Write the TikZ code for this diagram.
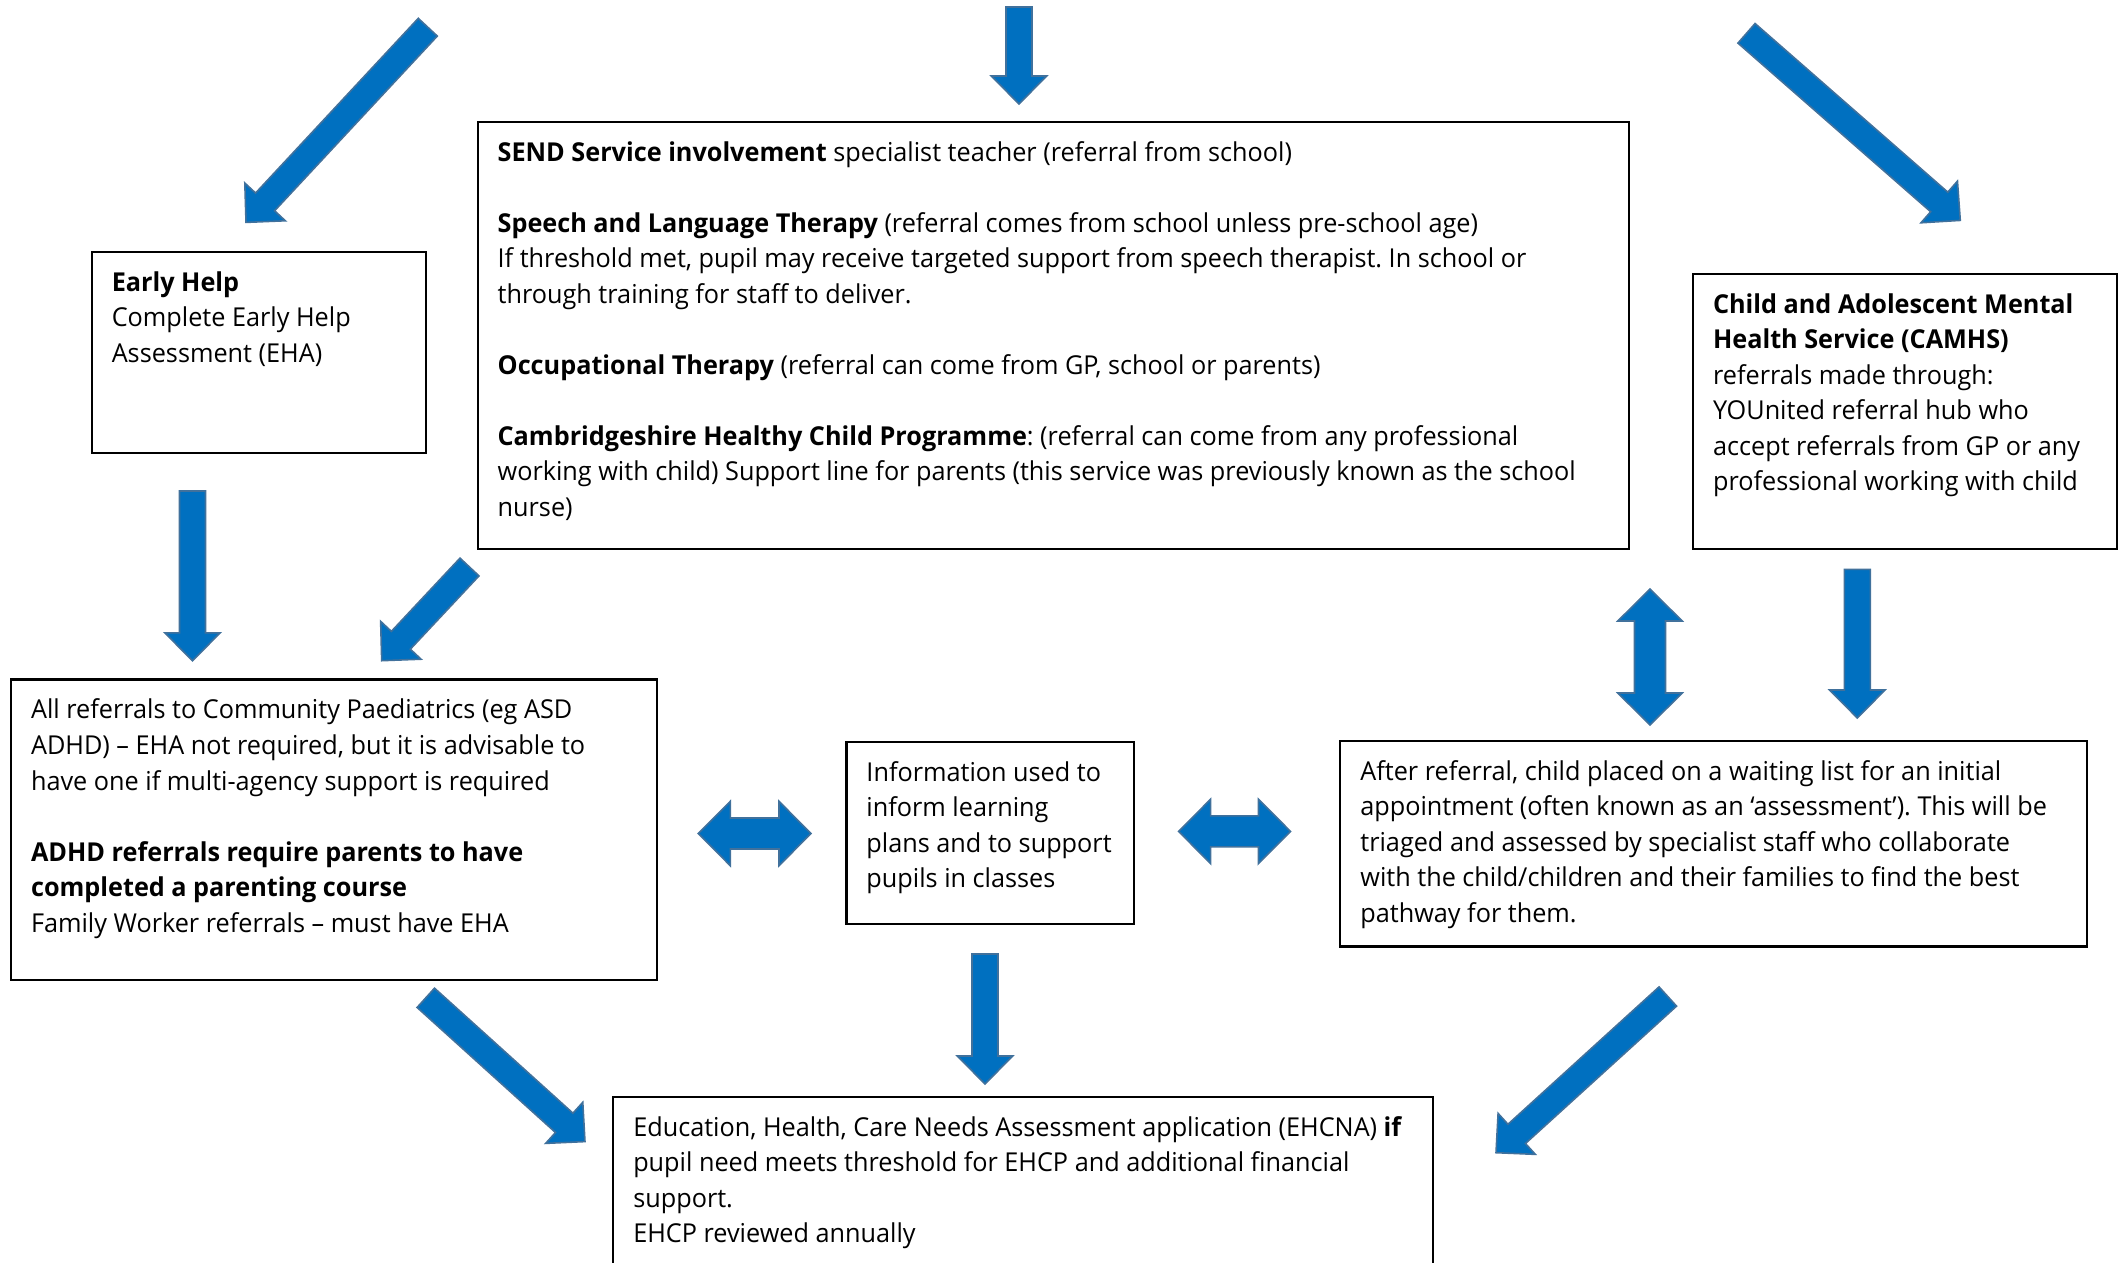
\documentclass[tikz,border=0pt]{standalone}
\usepackage{fontspec}
\setmainfont{Open Sans}[FakeStretch=0.97]
\usepackage{xcolor}
\usetikzlibrary{calc,positioning}

\definecolor{arrowblue}{HTML}{0070C0}
\definecolor{arrowedge}{HTML}{41719C}

% block arrow from #1 (tail) to #2 (tip)
\newcommand\fatarrow[2]{%
  \coordinate (fa-b) at ($(#2)!0.28cm!(#1)$);
  \draw[arrowshape] ($(#1)!0.13cm!90:(#2)$) -- ($(fa-b)!0.13cm!90:(#2)$)
    -- ($(fa-b)!0.277cm!90:(#2)$) -- (#2) -- ($(fa-b)!0.277cm!-90:(#2)$)
    -- ($(fa-b)!0.13cm!-90:(#2)$) -- ($(#1)!0.13cm!-90:(#2)$) -- cycle;}
% block arrow with a head at both ends
\newcommand\dblarrow[2]{%
  \coordinate (da-a) at ($(#1)!0.32cm!(#2)$);
  \coordinate (da-b) at ($(#2)!0.32cm!(#1)$);
  \draw[arrowshape] (#1) -- ($(da-a)!0.322cm!90:(#2)$) -- ($(da-a)!0.155cm!90:(#2)$)
    -- ($(da-b)!0.155cm!-90:(#1)$) -- ($(da-b)!0.322cm!-90:(#1)$) -- (#2)
    -- ($(da-b)!0.322cm!90:(#1)$) -- ($(da-b)!0.155cm!90:(#1)$)
    -- ($(da-a)!0.155cm!-90:(#2)$) -- ($(da-a)!0.322cm!-90:(#2)$) -- cycle;}
% text block of fixed size, lines set by hand
\newcommand\boxtext[3]{\makebox[#1][l]{\parbox[t][#2][t]{\dimexpr#1+1cm\relax}{%
  \raggedright\frenchspacing\strut #3}}}

\begin{document}
\begin{tikzpicture}[x=0.01cm,y=-0.01cm,
  box/.style={draw,line width=0.6pt,anchor=north west,inner xsep=0.2cm,
    inner ysep=0.1465cm,font=\fontsize{7.4}{10.1}\selectfont},
  arrowshape/.style={fill=arrowblue,draw=arrowedge,line width=0.45pt}]
  \useasboundingbox (0,0) rectangle (2123,1263);
  \clip (0,0) rectangle (2123,1263);

  % boxes
  \node[box] (eh) at (90.7,250.5) {\boxtext{2.943cm}{1.722cm}{%
    \textbf{Early Help}\\
    Complete Early Help\\
    Assessment (EHA)}};
  \node[box] (send) at (476.6,120.5) {\boxtext{11.109cm}{3.982cm}{%
    \textbf{SEND Service involvement} specialist teacher (referral from school)\\[\baselineskip]
    \textbf{Speech and Language Therapy} (referral comes from school unless pre-school age)\\
    If threshold met, pupil may receive targeted support from speech therapist. In school or\\
    through training for staff to deliver.\\[\baselineskip]
    \textbf{Occupational Therapy} (referral can come from GP, school or parents)\\[\baselineskip]
    \textbf{Cambridgeshire Healthy Child Programme}: (referral can come from any professional\\
    working with child) Support line for parents (this service was previously known as the school\\
    nurse)}};
  \node[box] (camhs) at (1692,272.6) {\boxtext{3.84cm}{2.461cm}{%
    \textbf{Child and Adolescent Mental}\\
    \textbf{Health Service (CAMHS)}\\
    referrals made through:\\
    YOUnited referral hub who\\
    accept referrals from GP or any\\
    professional working with child}};
  \node[box] (paed) at (10,678.4) {\boxtext{6.056cm}{2.715cm}{%
    All referrals to Community Paediatrics (eg ASD\\
    ADHD) – EHA not required, but it is advisable to\\
    have one if multi-agency support is required\\[\baselineskip]
    \textbf{ADHD referrals require parents to have}\\
    \textbf{completed a parenting course}\\
    Family Worker referrals – must have EHA}};
  \node[box] (info) at (845.4,740.8) {\boxtext{2.471cm}{1.528cm}{%
    Information used to\\
    inform learning\\
    plans and to support\\
    pupils in classes}};
  \node[box] (wait) at (1339.3,739.6) {\boxtext{7.065cm}{1.764cm}{%
    After referral, child placed on a waiting list for an initial\\
    appointment (often known as an ‘assessment’). This will be\\
    triaged and assessed by specialist staff who collaborate\\
    with the child/children and their families to find the best\\
    pathway for them.}};
  \node[box] (ehcna) at (612.2,1095.5) {\boxtext{7.793cm}{1.752cm}{%
    Education, Health, Care Needs Assessment application (EHCNA) \textbf{if}\\
    pupil need meets threshold for EHCP and additional financial\\
    support.\\
    EHCP reviewed annually}};

  % arrow ends
  \coordinate (eh-from) at (427.8,27.2);    \coordinate (eh-to) at (246,222.4);
  \coordinate (send-from) at (1019,7);      \coordinate (send-to) at (1019,104);
  \coordinate (camhs-from) at (1746.5,33.3); \coordinate (camhs-to) at (1960.3,220.4);
  \coordinate (eh-out) at (192.5,491);      \coordinate (paed-in1) at (192.5,660.8);
  \coordinate (send-out) at (469.5,567);    \coordinate (paed-in2) at (381.7,660.7);
  \coordinate (camhs-out) at (1857.3,569.4); \coordinate (wait-in) at (1857.3,718);
  \coordinate (send-up) at (1650,589);      \coordinate (wait-up) at (1650,725);
  \coordinate (paed-r) at (698.3,833.5);    \coordinate (info-l) at (811,833.5);
  \coordinate (info-r) at (1178.6,831.4);   \coordinate (wait-l) at (1290.5,831.4);
  \coordinate (info-out) at (985,954);      \coordinate (ehcna-in1) at (985,1084);
  \coordinate (paed-out) at (425.8,997.8);  \coordinate (ehcna-in2) at (585,1141.6);
  \coordinate (wait-out) at (1667.8,996.5); \coordinate (ehcna-in3) at (1496,1152.7);

  % arrows
  \fatarrow{eh-from}{eh-to}
  \fatarrow{send-from}{send-to}
  \fatarrow{camhs-from}{camhs-to}
  \fatarrow{eh-out}{paed-in1}
  \fatarrow{send-out}{paed-in2}
  \fatarrow{camhs-out}{wait-in}
  \dblarrow{send-up}{wait-up}
  \dblarrow{paed-r}{info-l}
  \dblarrow{info-r}{wait-l}
  \fatarrow{info-out}{ehcna-in1}
  \fatarrow{paed-out}{ehcna-in2}
  \fatarrow{wait-out}{ehcna-in3}
\end{tikzpicture}
\end{document}
